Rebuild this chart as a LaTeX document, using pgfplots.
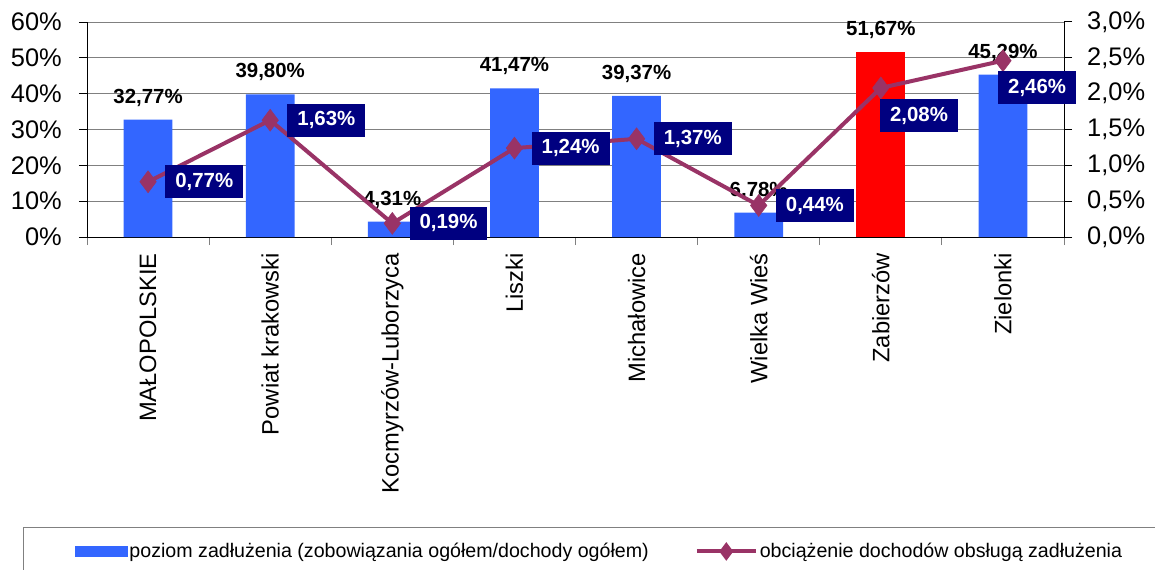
\documentclass[border=0pt]{standalone}
\usepackage{pgfplots}
\usepackage{pgfplotstable}
\pgfplotsset{compat=1.18}
\usepackage{fontspec}
\setmainfont{Liberation Sans}
\definecolor{barblue}{HTML}{3366FF}
\definecolor{barred}{HTML}{FF0000}
\definecolor{linepurple}{HTML}{993366}
\definecolor{boxnavy}{HTML}{000080}
\definecolor{gridgray}{HTML}{808080}

\pgfplotstableread{
x y lab dx dy
0 0.77 0,77\% 17 0
1 1.63 1,63\% 17 0
2 0.19 0,19\% 17 0
3 1.24 1,24\% 17 0
4 1.37 1,37\% 17 0
5 0.44 0,44\% 17 0
6 2.08 2,08\% -1 -28
7 2.46 2,46\% -5 -27
}\linedata

\begin{document}
\begin{tikzpicture}
\path[use as bounding box] (0,0) rectangle (1155bp,570bp);
\begin{axis}[
  at={(87bp,333bp)}, anchor=south west,
  scale only axis, width=977bp, height=215bp,
  xmin=-0.5, xmax=7.5, ymin=0, ymax=60,
  axis x line*=bottom, axis y line*=left,
  axis line style={-, black, line width=1bp},
  tick align=outside,
  xtick={-0.5,0.5,...,7.5}, xticklabels={},
  major tick length=8bp,
  xtick style={gridgray, line width=1bp},
  ytick style={black, line width=1bp},
  extra x ticks={0,...,7},
  extra x tick labels={MAŁOPOLSKIE,Powiat krakowski,Kocmyrzów-Luborzyca,Liszki,Michałowice,Wielka Wieś,Zabierzów,Zielonki},
  extra x tick style={major tick length=0pt, xticklabel style={rotate=90, anchor=east, inner sep=0pt, inner xsep=16bp, font=\fontsize{23.8}{27}\selectfont}},
  ytick={0,10,...,60},
  yticklabels={0\%,10\%,20\%,30\%,40\%,50\%,60\%},
  ytick pos=left,
  yticklabel style={font=\fontsize{25.5}{28}\selectfont, inner sep=0pt, anchor=east, xshift=-17bp},
  ymajorgrids, major y grid style={gridgray, line width=1bp},
  clip=false,
]
\addplot[ybar, bar width=0.4, bar shift=0pt, fill=barblue, draw=none,
  nodes near coords, point meta=explicit symbolic,
  every node near coord/.append style={anchor=center, yshift=22bp, text=black, font=\bfseries\fontsize{20.5}{24}\selectfont}]
  coordinates {(0,32.77) [32,77\%] (1,39.80) [39,80\%] (2,4.31) [4,31\%] (3,41.47) [41,47\%] (4,39.37) [39,37\%] (5,6.78) [6,78\%] (7,45.29) [45,29\%]};
\addplot[ybar, bar width=0.4, bar shift=0pt, fill=barred, draw=none,
  nodes near coords, point meta=explicit symbolic,
  every node near coord/.append style={anchor=center, yshift=22bp, text=black, font=\bfseries\fontsize{20.5}{24}\selectfont}]
  coordinates {(6,51.67) [51,67\%]};
\end{axis}
\begin{axis}[
  at={(87bp,333bp)}, anchor=south west,
  scale only axis, width=977bp, height=215bp,
  xmin=-0.5, xmax=7.5, ymin=0, ymax=3,
  axis x line=none, axis y line*=right,
  axis line style={-, black, line width=1bp},
  tick align=outside, major tick length=8bp,
  ytick style={black, line width=1bp},
  ytick={0,0.5,...,3},
  yticklabels={{0,0\%},{0,5\%},{1,0\%},{1,5\%},{2,0\%},{2,5\%},{3,0\%}},
  ytick pos=right, yticklabel pos=right,
  yticklabel style={font=\fontsize{25.5}{28}\selectfont, inner sep=0pt, anchor=west, xshift=15bp},
  clip=false,
  legend columns=2,
  legend style={at={(-0.0655,-1.3488)}, anchor=north west, draw=gridgray, line width=1bp,
    font=\fontsize{19.7}{23}\selectfont, inner xsep=51bp, inner ysep=14bp,
    /tikz/every even column/.append style={column sep=44bp}},
  legend cell align=left,
]
\addlegendimage{legend image code/.code={\fill[barblue] (0bp,-5bp) rectangle (52bp,5bp);}}
\addlegendentry{poziom zadłużenia (zobowiązania ogółem/dochody ogółem)}
\addplot[linepurple, line width=4bp, mark=diamond*, mark size=11bp,
  mark options={solid, line width=0.5bp, fill=linepurple},
  nodes near coords, point meta=explicit symbolic,
  visualization depends on={\thisrow{dx} \as \dx},
  visualization depends on={\thisrow{dy} \as \dy},
  every node near coord/.append style={anchor=west, xshift=\dx bp, yshift=\dy bp, fill=boxnavy, text=white,
    font=\bfseries\fontsize{20.5}{24}\selectfont, inner xsep=10bp, inner ysep=0pt, minimum height=33bp},
  legend image code/.code={\draw[linepurple, line width=4bp] (0bp,0bp) -- (59bp,0bp);
    \fill[linepurple] (29.5bp,-6bp) -- (34bp,0bp) -- (29.5bp,6bp) -- (25bp,0bp) -- cycle;}]
  table[x=x, y=y, meta=lab] \linedata;
\addlegendentry{obciążenie dochodów obsługą zadłużenia}
\end{axis}
\end{tikzpicture}
\end{document}
